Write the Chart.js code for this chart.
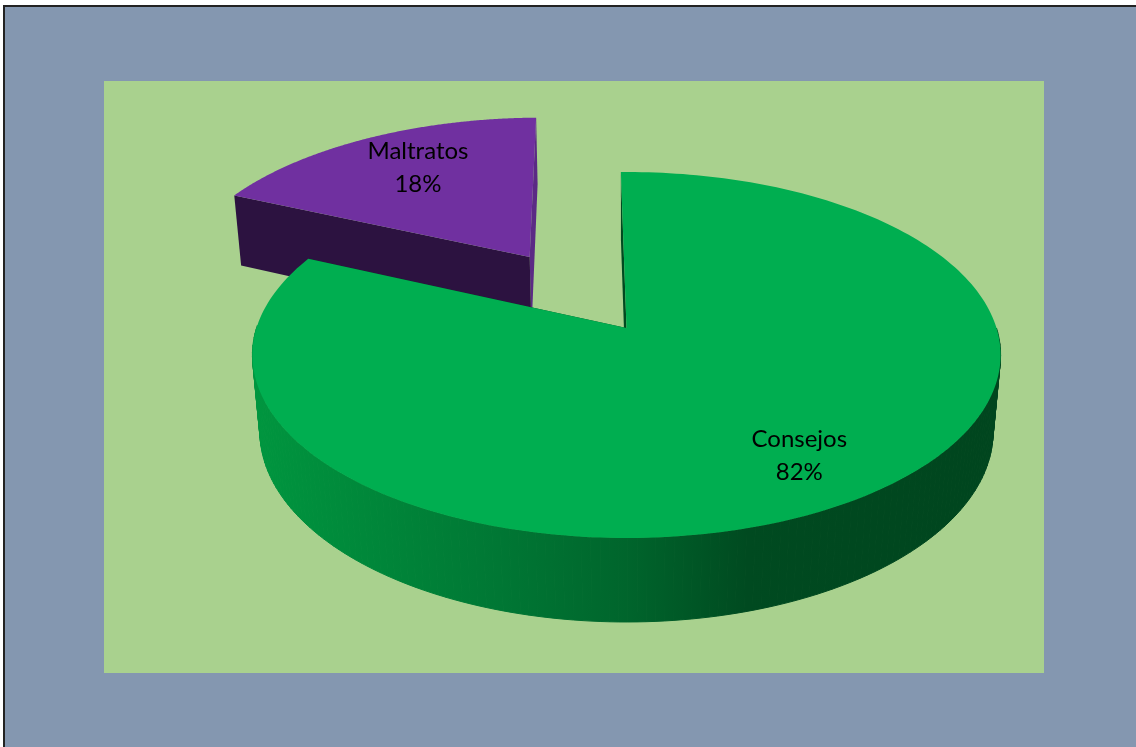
<!DOCTYPE html>
<html>
<head>
<meta charset="utf-8">
<title>Consejos y maltratos</title>
<style>
  html, body { margin: 0; padding: 0; background: #fff; overflow: hidden; }
  canvas { display: block; }
</style>
<script src="https://cdn.jsdelivr.net/npm/chart.js@4"></script>
</head>
<body>
<canvas id="graficoPastel" width="1136" height="747"></canvas>
<script>
// Datos
const categorias = ["Consejos", "Maltratos"];
const valores = [82, 18];

// Proyeccion del disco con perspectiva (eje u a la derecha, v hacia el observador)
const camara = { cx: 626.5, cy: 328, ancho: 370, alto: 179, fuga: 0.1475, caida: 77.5, fugaCaida: 0.02 };

function proyectar(u, v, abajo) {
    const w = 1 - camara.fuga * v + (abajo ? camara.fugaCaida : 0);
    return {
        x: camara.cx + camara.ancho * u / w,
        y: camara.cy + (camara.alto * v + (abajo ? camara.caida : 0)) / w
    };
}

function poligono(ctx, puntos) {
    ctx.beginPath();
    puntos.forEach((p, i) => i ? ctx.lineTo(p.x, p.y) : ctx.moveTo(p.x, p.y));
    ctx.closePath();
}

// ----------- FONDO ----------
const fondo = {
    id: "fondo",
    beforeDraw(chart) {
        const ctx = chart.ctx;
        ctx.save();
        ctx.fillStyle = "#ffffff";
        ctx.fillRect(0, 0, 1136, 747);
        ctx.fillStyle = "#222222";
        ctx.fillRect(3, 5, 1133, 742);
        ctx.fillStyle = "#8497B0";
        ctx.fillRect(5, 7, 1131, 740);
        ctx.fillStyle = "#A9D18E";
        ctx.fillRect(104, 81, 940, 592);
        ctx.restore();
    }
};

// ----------- PASTEL 3D ----------
const pastel3d = {
    id: "pastel3d",
    // se cancela el dibujo plano y se usan los angulos que calcula Chart.js
    beforeDatasetDraw(chart, args, opts) {
        const ctx = chart.ctx;
        const arcos = chart.getDatasetMeta(0).data;
        // primero lo que queda detras
        const orden = arcos.map((a, i) => i).reverse();
        ctx.save();
        orden.forEach(i => dibujarPorcion(ctx, arcos[i], i, opts));
        ctx.restore();
        return false;
    },
    afterDatasetsDraw(chart, args, opts) {
        const ctx = chart.ctx;
        const arcos = chart.getDatasetMeta(0).data;
        const total = valores.reduce((a, b) => a + b, 0);
        ctx.save();
        ctx.font = opts.fuente;
        ctx.fillStyle = "#000000";
        ctx.textAlign = "center";
        ctx.textBaseline = "alphabetic";
        arcos.forEach((arco, i) => {
            const medio = (arco.startAngle + arco.endAngle) / 2;
            const sep = opts.explosion[i];
            const r = opts.radioEtiqueta[i];
            const ang = medio + opts.giroEtiqueta[i] * Math.PI / 180;
            const p = proyectar(
                sep * Math.cos(medio) + r * Math.cos(ang),
                sep * Math.sin(medio) + r * Math.sin(ang)
            );
            ctx.fillText(categorias[i], p.x, p.y - 8.5);
            ctx.fillText(Math.round(valores[i] / total * 100) + "%", p.x, p.y + 24.5);
        });
        ctx.restore();
    }
};

function dibujarPorcion(ctx, arco, i, opts) {
    const medio = (arco.startAngle + arco.endAngle) / 2;
    const sep = opts.explosion[i];
    const u0 = sep * Math.cos(medio);
    const v0 = sep * Math.sin(medio);
    const pasos = 240;
    const arriba = [];
    const abajo = [];
    const frente = [];
    for (let k = 0; k <= pasos; k++) {
        const a = arco.startAngle + (arco.endAngle - arco.startAngle) * k / pasos;
        arriba.push(proyectar(u0 + Math.cos(a), v0 + Math.sin(a), false));
        abajo.push(proyectar(u0 + Math.cos(a), v0 + Math.sin(a), true));
        frente.push(Math.sin(a) > 0);
    }
    const centroA = proyectar(u0, v0, false);
    const centroB = proyectar(u0, v0, true);

    // pared exterior con su degradado, solo la parte que mira al frente
    const grad = ctx.createLinearGradient(252, 0, 1002, 0);
    opts.degradado[i].forEach(d => grad.addColorStop(d[0], d[1]));
    ctx.fillStyle = grad;
    ctx.strokeStyle = grad;
    ctx.lineWidth = 1;
    for (let k = 0; k < pasos; k++) {
        if (!frente[k]) continue;
        poligono(ctx, [arriba[k], arriba[k + 1], abajo[k + 1], abajo[k]]);
        ctx.fill();
        ctx.stroke();
    }

    // caras del corte
    ctx.fillStyle = opts.corteFin[i];
    poligono(ctx, [centroA, arriba[pasos], abajo[pasos], centroB]);
    ctx.fill();
    ctx.fillStyle = opts.corteInicio[i];
    poligono(ctx, [centroA, arriba[0], abajo[0], centroB]);
    ctx.fill();

    // tapa
    ctx.fillStyle = arco.options.backgroundColor;
    poligono(ctx, [centroA].concat(arriba));
    ctx.fill();
}

new Chart(document.getElementById("graficoPastel"), {
    type: "pie",
    data: {
        labels: categorias,
        datasets: [{
            data: valores,
            backgroundColor: ["#00AE50", "#7030A0"],
            borderWidth: 0
        }]
    },
    options: {
        responsive: false,
        animation: false,
        rotation: -1,
        events: [],
        plugins: {
            legend: { display: false },
            tooltip: { enabled: false },
            pastel3d: {
                explosion: [0, 0.505],
                radioEtiqueta: [0.769, 0.715],
                giroEtiqueta: [0.05, 2.1],
                fuente: "24px Lato",
                corteInicio: ["#004A20", "#2C1240"],
                corteFin: ["#004A20", "#5B2A85"],
                degradado: [
                    [[0, "#00963F"], [0.33, "#007734"], [0.5, "#00652C"], [0.66, "#004A20"], [1, "#00451E"]],
                    [[0, "#2C1240"], [1, "#2C1240"]]
                ]
            }
        }
    },
    plugins: [fondo, pastel3d]
});
</script>
</body>
</html>
